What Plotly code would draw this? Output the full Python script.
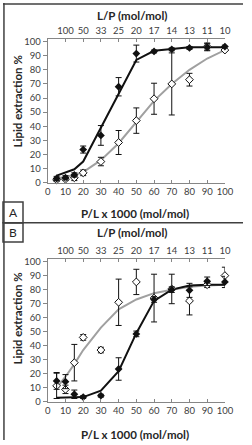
import plotly.graph_objects as go

# ---------------- data ----------------
x_pl = [5, 10, 15, 20, 30, 40, 50, 60, 70, 80, 90, 100]
top_tickvals = [10, 20, 30, 40, 50, 60, 70, 80, 90, 100]
top_ticktext = ["100", "50", "33", "25", "20", "17", "14", "13", "11", "10"]
bottom_tickvals = [0, 10, 20, 30, 40, 50, 60, 70, 80, 90, 100]
y_tickvals = [0, 10, 20, 30, 40, 50, 60, 70, 80, 90, 100]

# Panel A
A_filled = [3, 3.5, 5.5, 23.5, 33.5, 68, 91.5, 93, 94.5, 95.5, 96, 96.5]
A_filled_err = [1.5, 1.5, 1.5, 2.5, 7, 6.5, 6, 1, 1, 1, 2.5, 1]
A_open = [2, 2.5, 3.5, 7, 15, 28.5, 44, 59.5, 70, 73, 96.5, 94]
A_open_err = [1, 1, 2, 2, 3, 8.5, 9, 11, 22, 4.5, 2.5, 1]
A_fit_filled = [5, 7, 9.5, 15, 39, 63.5, 87, 93.5, 95, 96, 96, 96]
A_fit_open = [3, 4, 5.5, 7.5, 16, 28, 43, 58, 70, 80, 88, 94]

# Panel B
B_filled = [15, 14.5, 5.5, 3.5, 4.5, 23.5, 48.5, 73, 80, 79.5, 86, 85.5]
B_filled_err = [6, 5, 3, 1, 1, 8, 2, 2, 2, 5, 3, 4]
B_open = [11.5, 9, 28, 46, 37, 71, 85.5, 74, 80.5, 72, 83.5, 90]
B_open_err = [9, 3, 13, 2, 2, 16.5, 9, 17, 10.5, 10, 2, 6]
B_fit_filled = [3, 3, 3, 3.5, 8, 22, 49, 72, 80, 83, 83.5, 83.5]
B_fit_open = [10, 18, 27, 37, 53, 66, 73, 77.5, 80, 82, 83, 83.5]

W, H = 252, 445
FONT = "Lato"
TICKCOL = "#404040"
TITLECOL = "#262626"
AXCOL = "#868686"
FRAMECOL = "#404040"


def px(x):
    return x / W


def py(y):
    return 1 - y / H


fig = go.Figure()


def add_panel(xa, ya, fit_f, fit_o, filled, ferr, opn, oerr):
    fig.add_trace(go.Scatter(x=x_pl, y=fit_o, mode="lines",
                             line=dict(color="#a0a0a0", width=2),
                             xaxis=xa, yaxis=ya, showlegend=False, cliponaxis=False))
    fig.add_trace(go.Scatter(x=x_pl, y=fit_f, mode="lines",
                             line=dict(color="#111111", width=2),
                             xaxis=xa, yaxis=ya, showlegend=False, cliponaxis=False))
    fig.add_trace(go.Scatter(x=x_pl, y=opn, mode="markers",
                             marker=dict(symbol="diamond", size=6, color="white",
                                         line=dict(color="#111111", width=1)),
                             error_y=dict(type="data", array=oerr, color="#111111",
                                          thickness=1, width=3),
                             xaxis=xa, yaxis=ya, showlegend=False, cliponaxis=False))
    fig.add_trace(go.Scatter(x=x_pl, y=filled, mode="markers",
                             marker=dict(symbol="diamond", size=6, color="#111111"),
                             error_y=dict(type="data", array=ferr, color="#111111",
                                          thickness=1, width=3),
                             xaxis=xa, yaxis=ya, showlegend=False, cliponaxis=False))


add_panel("x", "y", A_fit_filled, A_fit_open, A_filled, A_filled_err, A_open, A_open_err)
add_panel("x2", "y2", B_fit_filled, B_fit_open, B_filled, B_filled_err, B_open, B_open_err)
# invisible traces to activate top axes
fig.add_trace(go.Scatter(x=[0], y=[0], mode="markers", marker=dict(opacity=0),
                         xaxis="x3", yaxis="y", showlegend=False, hoverinfo="skip"))
fig.add_trace(go.Scatter(x=[0], y=[0], mode="markers", marker=dict(opacity=0),
                         xaxis="x4", yaxis="y2", showlegend=False, hoverinfo="skip"))

xdom = [px(47), px(233)]
yA = [py(183), py(183 - 102 * 1.437)]
yB = [py(406.3), py(406.3 - 102 * 1.43)]

tickfont = dict(family=FONT, size=9.5, color=TICKCOL)

bottom_x = dict(domain=xdom, range=[0, 100], tickvals=bottom_tickvals,
                ticks="inside", ticklen=3, tickcolor=AXCOL, showline=True,
                linecolor=AXCOL, linewidth=1, showgrid=False, zeroline=False,
                tickfont=tickfont, fixedrange=True)
top_x = dict(range=[0, 100], tickvals=top_tickvals, ticktext=top_ticktext,
             side="top", ticks="inside", ticklen=3, tickcolor=AXCOL, showline=True,
             linecolor=AXCOL, linewidth=1, showgrid=False, zeroline=False,
             tickfont=tickfont)
yax = dict(range=[0, 102], tickvals=y_tickvals, ticks="outside", ticklen=4,
           tickcolor=AXCOL, showline=True, linecolor=AXCOL, linewidth=1,
           showgrid=False, zeroline=False, tickfont=tickfont)

fig.update_layout(
    width=W, height=H,
    margin=dict(l=0, r=0, t=0, b=0),
    paper_bgcolor="white", plot_bgcolor="white",
    xaxis=dict(anchor="y", **bottom_x),
    yaxis=dict(domain=yA, anchor="x", **yax),
    xaxis2=dict(anchor="y2", **bottom_x),
    yaxis2=dict(domain=yB, anchor="x2", **yax),
    xaxis3=dict(overlaying="x", anchor="y", domain=xdom, **top_x),
    xaxis4=dict(overlaying="x2", anchor="y2", domain=xdom, **top_x),
)

titlefont = dict(family=FONT, size=11.5, color=TITLECOL, weight="bold")
ann = []
for (ty_lp, ty_pl, ty_y) in [(13, 214, 100), (234, 439, 321)]:
    ann.append(dict(text="L/P (mol/mol)", x=px(135), y=py(ty_lp), xref="paper",
                    yref="paper", showarrow=False, font=titlefont,
                    xanchor="center", yanchor="middle"))
    ann.append(dict(text="P/L x 1000 (mol/mol)", x=px(139), y=py(ty_pl),
                    xref="paper", yref="paper", showarrow=False, font=titlefont,
                    xanchor="center", yanchor="middle"))
    ann.append(dict(text="Lipid extraction %", x=px(15), y=py(ty_y), xref="paper",
                    yref="paper", showarrow=False, font=titlefont, textangle=-90,
                    xanchor="center", yanchor="middle"))
ann.append(dict(text="A", x=px(10.5), y=py(213.2), xref="paper", yref="paper",
                showarrow=False, font=dict(family=FONT, size=12, color=TITLECOL),
                xanchor="center", yanchor="middle"))
ann.append(dict(text="B", x=px(10.5), y=py(233.5), xref="paper", yref="paper",
                showarrow=False, font=dict(family=FONT, size=12, color=TITLECOL),
                xanchor="center", yanchor="middle"))
fig.update_layout(annotations=ann)

line = dict(color=FRAMECOL, width=1.5)
shapes = [
    dict(type="line", x0=0, x1=1, y0=py(1), y1=py(1), xref="paper", yref="paper", line=line),
    dict(type="line", x0=px(1), x1=px(1), y0=0, y1=1, xref="paper", yref="paper", line=line),
    dict(type="line", x0=0, x1=1, y0=py(223.7), y1=py(223.7), xref="paper", yref="paper", line=line),
    dict(type="rect", x0=0, x1=px(21), y0=py(223.7), y1=py(202.7), xref="paper", yref="paper", line=line),
    dict(type="rect", x0=0, x1=px(21), y0=py(243.3), y1=py(223.7), xref="paper", yref="paper", line=line),
]
fig.update_layout(shapes=shapes)

fig.write_html("out.html")
